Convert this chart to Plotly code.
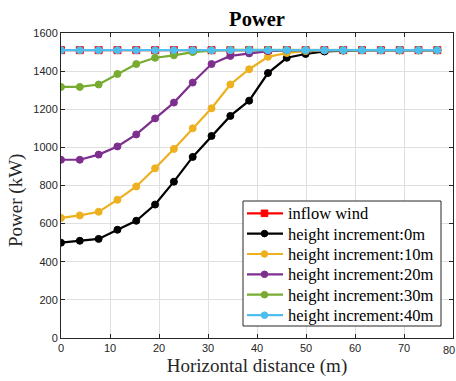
import plotly.graph_objects as go

x = [round(i * 3.84, 2) for i in range(21)]

inflow = [1510] * 21
h0 = [500, 510, 520, 568, 615, 700, 820, 950, 1060, 1165, 1245, 1390, 1470, 1490, 1503,
      1508, 1510, 1510, 1510, 1510, 1510]
h10 = [630, 643, 662, 725, 795, 890, 992, 1100, 1205, 1330, 1410, 1475, 1495, 1505, 1509,
       1510, 1510, 1510, 1510, 1510, 1510]
h20 = [935, 935, 962, 1005, 1068, 1152, 1235, 1340, 1437, 1480, 1493, 1505, 1509, 1510, 1510,
       1510, 1510, 1510, 1510, 1510, 1510]
h30 = [1317, 1317, 1330, 1385, 1437, 1470, 1483, 1500, 1508, 1512, 1512, 1512, 1511, 1511, 1510,
       1510, 1510, 1510, 1510, 1510, 1510]
h40 = [1510] * 21

x_ticks = [0, 10, 20, 30, 40, 50, 60, 70, 80]
y_ticks = [0, 200, 400, 600, 800, 1000, 1200, 1400, 1600]

names = ["inflow wind", "height increment:0m", "height increment:10m",
         "height increment:20m", "height increment:30m", "height increment:40m"]
series = [inflow, h0, h10, h20, h30, h40]
colors = ["#FF0000", "#000000", "#EDB120", "#7E2F8E", "#77AC30", "#4DBEEE"]
symbols = ["square", "circle", "circle", "circle", "circle", "circle"]

# plot-area pixel geometry (for the hand-drawn legend box)
L, R, T, B = 61, 453, 33, 338
W, H = R - L, B - T


def px(p):
    return (p - L) / W


def py(p):
    return (B - p) / H


fig = go.Figure()
for n, s, c, sym in zip(names, series, colors, symbols):
    fig.add_trace(go.Scatter(
        x=x, y=s, name=n, mode="lines+markers",
        line=dict(color=c, width=2.2),
        marker=dict(symbol=sym, size=7, color=c, line=dict(color=c, width=1)),
        showlegend=False,
    ))

# legend drawn as shapes + annotations
shapes = [dict(type="rect", xref="paper", yref="paper",
               x0=px(243), x1=px(441), y0=py(326), y1=py(201),
               line=dict(color="#262626", width=1), fillcolor="white", layer="above")]
annotations = []
row_y = [213.3, 233.6, 254, 274.3, 294.7, 315.2]
for n, c, sym, ry in zip(names, colors, symbols, row_y):
    shapes.append(dict(type="line", xref="paper", yref="paper",
                       x0=px(247), x1=px(283), y0=py(ry), y1=py(ry),
                       line=dict(color=c, width=2.2), layer="above"))
    r = 3.3
    shapes.append(dict(type="rect" if sym == "square" else "circle",
                       xref="paper", yref="paper",
                       x0=px(264.5 - r), x1=px(264.5 + r), y0=py(ry + r), y1=py(ry - r),
                       line=dict(color=c, width=1), fillcolor=c, layer="above"))
    annotations.append(dict(text=n, xref="paper", yref="paper", x=px(285.5), y=py(ry + 0.5),
                            xanchor="left", yanchor="middle", showarrow=False,
                            font=dict(family="Liberation Serif", size=16.5, color="black")))

# y-axis title placed like the reference (slightly below the axis centre)
annotations.append(dict(text="Power (kW)", xref="paper", yref="paper",
                        x=px(16), y=py(201), xanchor="center", yanchor="middle",
                        textangle=-90, showarrow=False,
                        font=dict(family="Liberation Serif", size=19, color="#262626")))

# last x tick label, kept inside the page so it does not overflow the window
annotations.append(dict(text=str(x_ticks[-1]), xref="paper", yref="paper",
                        x=px(456), y=0, xanchor="right", yanchor="top",
                        yshift=-5, borderpad=0, showarrow=False,
                        font=dict(family="Liberation Sans", size=11, color="#262626")))

axis_common = dict(
    showgrid=True, gridcolor="#DFDFDF", gridwidth=1,
    showline=True, linecolor="#262626", linewidth=1, mirror="ticks",
    ticks="inside", ticklen=4, tickcolor="#262626",
    tickfont=dict(family="Liberation Sans", size=11, color="#262626"),
    zeroline=False,
)

fig.update_layout(
    width=456, height=381,
    margin=dict(l=L, r=456 - R, t=T, b=381 - B, autoexpand=False),
    paper_bgcolor="white", plot_bgcolor="white",
    title=dict(text="<b>Power</b>", x=257 / 456, xanchor="center",
               y=1 - 18.5 / 381, yanchor="middle",
               font=dict(family="Liberation Serif", size=20.5, color="black")),
    xaxis=dict(range=[0, 80], tickmode="array", tickvals=x_ticks,
               ticktext=[str(v) for v in x_ticks[:-1]] + [""],
               title=dict(text="Horizontal distance (m)", standoff=5,
                          font=dict(family="Liberation Serif", size=19, color="#262626")),
               **axis_common),
    yaxis=dict(range=[0, 1600], tickmode="array", tickvals=y_ticks,
               ticktext=[str(v) for v in y_ticks],
               **axis_common),
    shapes=shapes,
    annotations=annotations,
    showlegend=False,
)

fig.write_html("out.html")
